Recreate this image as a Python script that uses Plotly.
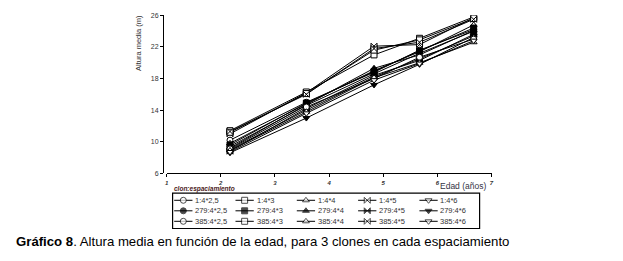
import plotly.graph_objects as go

# ---------------- data ----------------
edad = [2.17, 3.58, 4.83, 5.67, 6.67]
clones = ["1", "279", "385"]
espaciamientos = ["2,5", "3", "4", "5", "6"]
y_ticks = [6, 10, 14, 18, 22, 26]
x_ticks = [1, 2, 3, 4, 5, 6, 7]

alt_1_25 = [10.2, 15.0, 18.8, 21.6, 24.2]
alt_1_3 = [11.4, 16.3, 21.0, 23.1, 25.8]
alt_1_4 = [9.8, 14.8, 19.0, 21.4, 24.8]
alt_1_5 = [11.0, 16.2, 22.1, 22.3, 25.7]
alt_1_6 = [9.0, 14.0, 18.2, 20.5, 23.4]
alt_279_25 = [9.4, 14.6, 18.6, 21.2, 24.0]
alt_279_3 = [9.6, 14.9, 18.9, 21.5, 24.4]
alt_279_4 = [9.2, 14.7, 19.3, 21.0, 24.1]
alt_279_5 = [8.8, 14.2, 18.4, 20.3, 23.6]
alt_279_6 = [8.6, 13.0, 17.2, 19.8, 23.2]
alt_385_25 = [9.1, 14.4, 18.0, 20.7, 23.0]
alt_385_3 = [11.2, 16.1, 21.6, 22.9, 25.6]
alt_385_4 = [8.9, 13.8, 18.1, 20.0, 22.6]
alt_385_5 = [11.3, 16.0, 21.8, 22.6, 25.5]
alt_385_6 = [8.7, 13.6, 17.8, 19.9, 22.8]

series = {
    "1": [alt_1_25, alt_1_3, alt_1_4, alt_1_5, alt_1_6],
    "279": [alt_279_25, alt_279_3, alt_279_4, alt_279_5, alt_279_6],
    "385": [alt_385_25, alt_385_3, alt_385_4, alt_385_5, alt_385_6],
}

# ---------------- styles ----------------
W, H = 623, 261
FONT = "Arial, Liberation Sans, sans-serif"
symbols = ["circle", "square", "triangle-up", "bowtie", "triangle-down"]
filled = {"1": False, "279": True, "385": False}

def px_x(p):
    return p / W

def px_y(p):
    return 1 - p / H

fig = go.Figure()

# main traces
for clone in clones:
    for j, sp in enumerate(espaciamientos):
        fig.add_trace(go.Scatter(
            x=edad, y=series[clone][j], mode="lines+markers",
            name=f"{clone}:4*{sp}", showlegend=False,
            line=dict(color="black", width=1),
            marker=dict(symbol=symbols[j], size=6,
                        color="black" if filled[clone] else "white",
                        line=dict(color="black", width=1)),
            xaxis="x", yaxis="y",
        ))

# custom legend (drawn in a helper subplot, positioned by grid index)
LEG_W, LEG_H = 309.0, 36.4
col_step, row_step = 61.7, 10.8
x_start, y_start, seg = 1.6, 7.4, 18.4
annotations = []
for r, clone in enumerate(clones):
    for c, sp in enumerate(espaciamientos):
        x0 = x_start + c * col_step
        yy = y_start + r * row_step
        fig.add_trace(go.Scatter(
            x=[x0, x0 + seg / 2, x0 + seg], y=[yy, yy, yy],
            mode="lines+markers", showlegend=False, hoverinfo="skip",
            line=dict(color="black", width=1),
            marker=dict(symbol=symbols[c], size=[0, 6, 0],
                        color="black" if filled[clone] else "white",
                        line=dict(color="black", width=[0, 1, 0])),
            xaxis="x2", yaxis="y2",
        ))
        annotations.append(dict(
            x=x0 + seg + 0.8, y=yy, xref="x2", yref="y2",
            text=f"{clone}:4*{sp}", showarrow=False,
            xanchor="left", yanchor="middle",
            font=dict(family=FONT, size=7.5, color="#333333"),
        ))

# titles / texts
annotations += [
    dict(x=px_x(138), y=px_y(40), xref="paper", yref="paper",
         text="Altura media (m)", textangle=-90, showarrow=False,
         xanchor="center", yanchor="middle",
         font=dict(family=FONT, size=7.5, color="#333333")),
    dict(x=px_x(489), y=px_y(187.5), xref="paper", yref="paper",
         text="Edad (años)", showarrow=False, xanchor="right", yanchor="middle",
         font=dict(family=FONT, size=8.5, color="#333344")),
    dict(x=px_x(171.5), y=px_y(190.5), xref="paper", yref="paper",
         text="<b><i>clon:espaciamiento</i></b>", showarrow=False,
         xanchor="left", yanchor="middle",
         font=dict(family=FONT, size=6.5, color="#4a2020")),
    dict(x=px_x(12), y=px_y(244.5), xref="paper", yref="paper",
         text="<b>Gráfico 8</b>. Altura media en función de la edad, para 3 clones en cada espaciamiento",
         showarrow=False, xanchor="left", yanchor="middle",
         font=dict(family=FONT, size=13.2, color="black")),
]

fig.update_layout(
    width=W, height=H,
    margin=dict(l=0, r=0, t=0, b=0),
    paper_bgcolor="white", plot_bgcolor="white",
    showlegend=False,
    xaxis=dict(domain=[px_x(165.7), px_x(492.7)], range=[1, 7],
               tickvals=x_ticks, ticks="outside", ticklen=3, tickwidth=1,
               tickcolor="black", showline=True, linecolor="black", linewidth=1,
               showgrid=False, zeroline=False, anchor="free", position=px_y(174),
               tickfont=dict(family=FONT, size=6, color="#333333",
                             weight="bold", style="italic")),
    yaxis=dict(domain=[px_y(174), px_y(11.7)], range=[6, 26],
               tickvals=y_ticks, ticks="outside", ticklen=3, tickwidth=1,
               tickcolor="black", showline=True, linecolor="black", linewidth=1,
               showgrid=False, zeroline=False, anchor="free", position=px_x(162),
               tickfont=dict(family=FONT, size=7, color="#333333")),
    xaxis2=dict(domain=[px_x(171.7), px_x(480.7)], range=[0, LEG_W],
                visible=False, anchor="y2"),
    yaxis2=dict(domain=[px_y(230.7), px_y(194.3)], range=[LEG_H, 0],
                visible=False, anchor="x2"),
    annotations=annotations,
    shapes=[dict(type="rect", xref="paper", yref="paper",
                 x0=px_x(171.7), x1=px_x(480.7), y0=px_y(230.7), y1=px_y(194.3),
                 line=dict(color="black", width=1.2))],
)

fig.write_html("out.html")
